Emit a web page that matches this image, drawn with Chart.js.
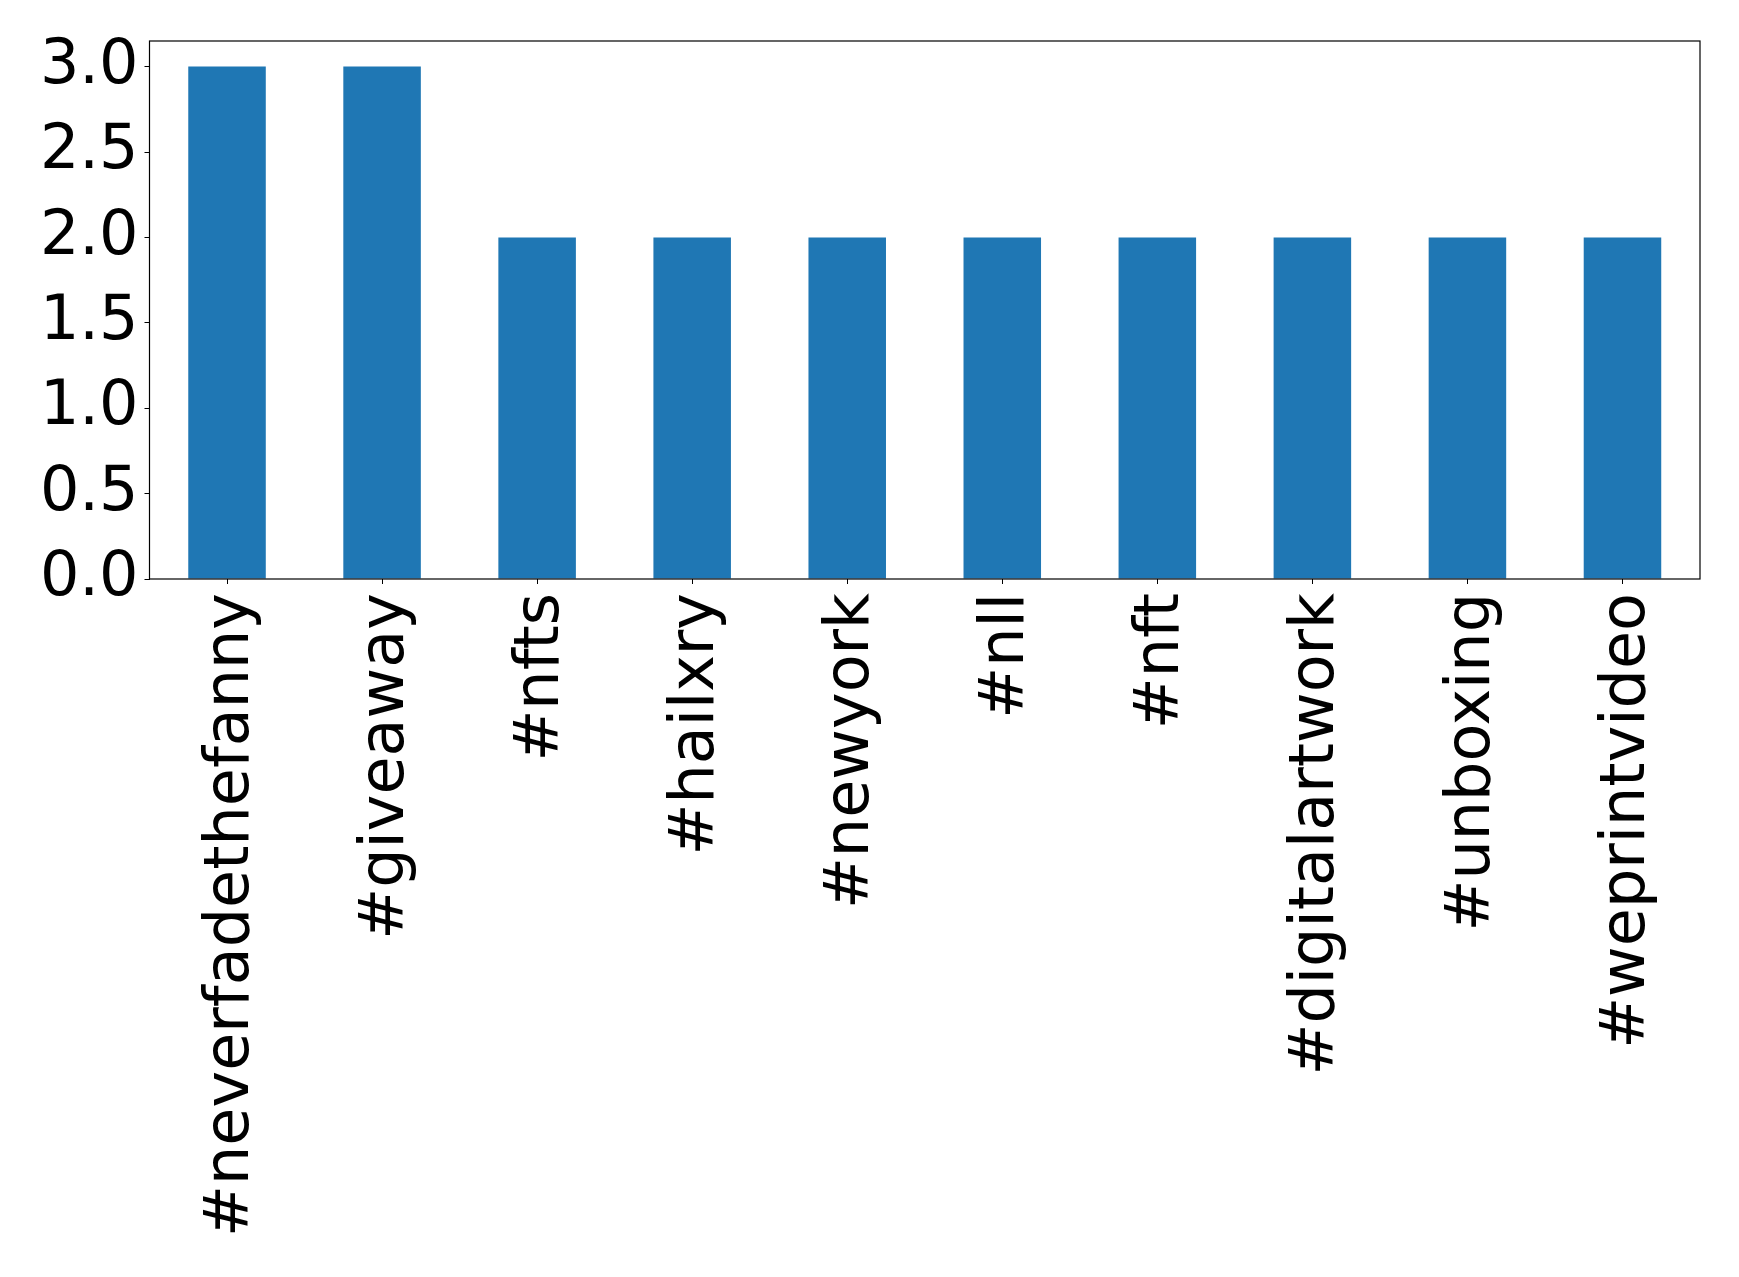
<!DOCTYPE html>
<html>
<head>
<meta charset="utf-8">
<script src="https://cdn.jsdelivr.net/npm/chart.js@4.4.0/dist/chart.umd.min.js"></script>
<style>
  html, body { margin: 0; padding: 0; background: #fff; }
  #wrap { width: 1739px; height: 1277px; }
</style>
</head>
<body>
<div id="wrap"><canvas id="hashtagChart" width="1739" height="1277"></canvas></div>
<script>
const hashtags = ["#neverfadethefanny", "#giveaway", "#nfts", "#hailxry", "#newyork", "#nll", "#nft", "#digitalartwork", "#unboxing", "#weprintvideo"];
const counts = [3, 3, 2, 2, 2, 2, 2, 2, 2, 2];
const yTicks = [0, 0.5, 1.0, 1.5, 2.0, 2.5, 3.0];

// caja alrededor del area del grafico (como matplotlib)
const frameBox = {
    id: "frameBox",
    afterDraw(chart) {
        const a = chart.chartArea;
        const ctx = chart.ctx;
        ctx.save();
        ctx.strokeStyle = "#000";
        ctx.lineWidth = 1.2;
        ctx.strokeRect(a.left, a.top, a.right - a.left, a.bottom - a.top);
        ctx.restore();
    }
};

const ctx = document.getElementById("hashtagChart").getContext("2d");
new Chart(ctx, {
    type: "bar",
    data: {
        labels: hashtags,
        datasets: [{
            data: counts,
            backgroundColor: "#1f77b4",
            barPercentage: 0.5,
            categoryPercentage: 1.0
        }]
    },
    options: {
        responsive: false,
        animation: false,
        layout: { padding: { top: 41, right: 39, left: 0, bottom: 0 } },
        plugins: {
            legend: { display: false },
            tooltip: { enabled: false }
        },
        scales: {
            x: {
                grid: { drawOnChartArea: false, drawTicks: true, tickLength: 5, color: "#000", offset: false },
                border: { display: false },
                ticks: {
                    color: "#000",
                    font: { family: "DejaVu Sans", size: 62 },
                    minRotation: 90,
                    maxRotation: 90,
                    autoSkip: false,
                    padding: 9,
                    labelOffset: 5
                },
                afterFit(scale) { scale.height = 698; }
            },
            y: {
                min: 0,
                max: 3.15,
                grid: { drawOnChartArea: false, drawTicks: true, tickLength: 5, color: "#000" },
                border: { display: false },
                afterBuildTicks(scale) {
                    scale.ticks = yTicks.map(v => ({ value: v }));
                },
                ticks: {
                    color: "#000",
                    font: { family: "DejaVu Sans", size: 62 },
                    padding: 6,
                    callback: v => Number(v).toFixed(1)
                },
                afterFit(scale) {
                    scale.width = 149.5;
                    scale.paddingTop = 0;
                    scale.paddingBottom = 0;
                }
            }
        }
    },
    plugins: [frameBox]
});
</script>
</body>
</html>
